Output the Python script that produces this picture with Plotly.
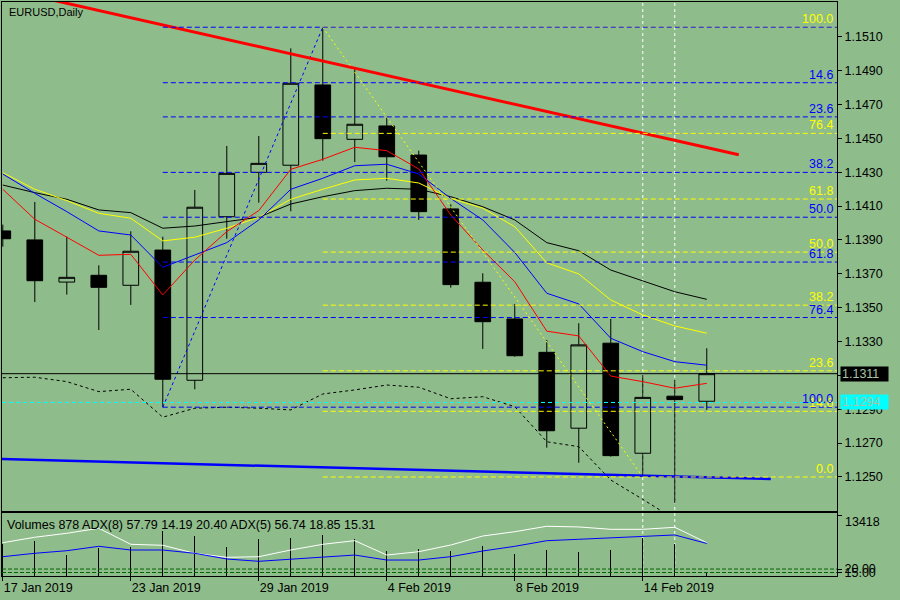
import plotly.graph_objects as go

# ---------------- data ----------------
dates = ["17 Jan 2019", "18 Jan 2019", "21 Jan 2019", "22 Jan 2019", "23 Jan 2019",
         "24 Jan 2019", "25 Jan 2019", "28 Jan 2019", "29 Jan 2019", "30 Jan 2019",
         "31 Jan 2019", "1 Feb 2019", "4 Feb 2019", "5 Feb 2019", "6 Feb 2019",
         "7 Feb 2019", "8 Feb 2019", "11 Feb 2019", "12 Feb 2019", "13 Feb 2019",
         "14 Feb 2019", "15 Feb 2019", "18 Feb 2019"]
opens  = [1.13953, 1.13900, 1.13651, 1.13691, 1.13632, 1.13840, 1.13071, 1.14037,
          1.14299, 1.14341, 1.14815, 1.14494, 1.14573, 1.14401, 1.14083, 1.13650,
          1.13433, 1.13236, 1.12788, 1.13290, 1.12640, 1.12977, 1.12947]
highs  = [1.13990, 1.14124, 1.13919, 1.13750, 1.13951, 1.13919, 1.14195, 1.14455,
          1.14514, 1.15031, 1.15156, 1.14907, 1.14624, 1.14427, 1.14110, 1.13703,
          1.13522, 1.13309, 1.13408, 1.13433, 1.13102, 1.13073, 1.13260]
lows   = [1.13860, 1.13533, 1.13577, 1.13368, 1.13516, 1.12912, 1.13018, 1.13907,
          1.14120, 1.14069, 1.14368, 1.14360, 1.14250, 1.14018, 1.13618, 1.13256,
          1.13210, 1.12673, 1.12584, 1.12620, 1.12500, 1.12345, 1.12896]
closes = [1.13907, 1.13659, 1.13679, 1.13620, 1.13833, 1.13077, 1.14093, 1.14293,
          1.14352, 1.14825, 1.14498, 1.14583, 1.14391, 1.14067, 1.13636, 1.13417,
          1.13216, 1.12773, 1.13280, 1.12626, 1.12970, 1.12957, 1.13110]

ma_red    = [1.14199, 1.14022, 1.13916, 1.13809, 1.13815, 1.13575, 1.13781, 1.13949,
             1.14073, 1.14317, 1.14376, 1.14447, 1.14427, 1.14319, 1.14047, 1.13840,
             1.13653, 1.13361, 1.13333, 1.13096, 1.13063, 1.13024, 1.13053]
ma_blue   = [1.14289, 1.14175, 1.14067, 1.13953, 1.13929, 1.13738, 1.13811, 1.13884,
             1.14018, 1.14199, 1.14264, 1.14338, 1.14347, 1.14289, 1.14145, 1.14018,
             1.13826, 1.13585, 1.13522, 1.13319, 1.13240, 1.13181, 1.13160]
ma_yellow = [1.14297, 1.14199, 1.14132, 1.14057, 1.14028, 1.13894, 1.13916, 1.13969,
             1.14034, 1.14140, 1.14199, 1.14254, 1.14264, 1.14236, 1.14146, 1.14087,
             1.13978, 1.13765, 1.13699, 1.13545, 1.13457, 1.13392, 1.13349]
ma_black  = [1.14224, 1.14179, 1.14140, 1.14077, 1.14061, 1.13969, 1.13982, 1.14008,
             1.14034, 1.14112, 1.14155, 1.14191, 1.14205, 1.14199, 1.14155, 1.14096,
             1.14018, 1.13884, 1.13836, 1.13722, 1.13659, 1.13594, 1.13549]
env_lower = [1.13086, 1.13089, 1.13063, 1.13004, 1.13018, 1.12853, 1.12906, 1.12912,
             1.12906, 1.12896, 1.12990, 1.13014, 1.13043, 1.13030, 1.12962, 1.12974,
             1.12915, 1.12708, 1.12679, 1.12482, 1.12368, 1.12250]

volumes = [7000, 7765, 4619, 6093, 6445, 9898, 8865, 6379, 8139, 8425, 9019, 8073,
           5499, 5939, 5499, 6599, 4773, 5719, 5345, 5719, 8293, 7039, 878]
adx8 = [57.8, 65.6, 71.3, 78.5, 55.5, 54.1, 42.6, 36.8, 37.7, 47.3, 55.5, 60.7,
        40.1, 44.9, 54.5, 67.4, 73.6, 81.4, 80.4, 77.0, 77.0, 79.9, 57.79]
adx5 = [37.7, 42.6, 46.3, 52.6, 47.3, 47.3, 42.6, 34.4, 31.1, 34.4, 36.8, 40.1,
        32.9, 32.9, 37.7, 45.9, 52.6, 60.7, 62.7, 64.5, 67.0, 68.9, 56.74]
adx_levels = [20, 15]

tick_idx = [0, 4, 8, 12, 16, 20]
price_ticks = [1.1250, 1.1270, 1.1290, 1.1310, 1.1330, 1.1350, 1.1370,
               1.1390, 1.1410, 1.1430, 1.1450, 1.1470, 1.1490, 1.1510]
price_tick_text = ["1.1250", "1.1270", "1.1290", "1.1310", "1.1330", "1.1350", "1.1370",
                   "1.1390", "1.1410", "1.1430", "1.1450", "1.1470", "1.1490", "1.1510"]

fib_levels = [0.0, 14.6, 23.6, 38.2, 50.0, 61.8, 76.4, 100.0]
fib1_low_idx, fib1_low = 5, 1.12912
fib1_high_idx, fib1_high = 10, 1.15156
fib2_low_idx, fib2_low = 20, 1.12500

trend_red_x, trend_red_y = [1, 23], [1.15340, 1.14403]
trend_blue_x, trend_blue_y = [-0.5, 24], [1.12608, 1.12488]
bid_price = 1.1311
cyan_price = 1.1294
vlines_idx = [20, 21]
vol_label = 13418
title_text = "EURUSD,Daily"
sub_text = "Volumes 878 ADX(8) 57.79 14.19 20.40 ADX(5) 56.74 18.85 15.31"

# ---------------- style ----------------
BG = "#8FBC8B"
FONT = "Liberation Sans"
FS = 12.5
x_range = [-0.025, 26.07]
y_range = [1.12299, 1.15305]
main_dom = [0.11324, 1.0]
sub_dom = [0.0, 0.10923]
xs = list(range(len(dates)))

fig = go.Figure()

fig.add_trace(go.Candlestick(
    x=xs, open=opens, high=highs, low=lows, close=closes,
    increasing=dict(line=dict(color="black", width=1), fillcolor=BG),
    decreasing=dict(line=dict(color="black", width=1), fillcolor="black"),
    showlegend=False, hoverinfo="skip", xaxis="x", yaxis="y"))

for vals, col in [(ma_black, "black"), (ma_yellow, "#FFFF00"),
                  (ma_blue, "#0000FF"), (ma_red, "#FF0000")]:
    fig.add_trace(go.Scatter(x=xs, y=vals, mode="lines", line=dict(color=col, width=1),
                             showlegend=False, hoverinfo="skip", xaxis="x", yaxis="y"))

fig.add_trace(go.Scatter(x=xs[:len(env_lower)], y=env_lower, mode="lines",
                         line=dict(color="black", width=1, dash="3px,3px"),
                         showlegend=False, hoverinfo="skip", xaxis="x", yaxis="y"))

# fib diagonals
fig.add_trace(go.Scatter(x=[fib1_low_idx, fib1_high_idx], y=[fib1_low, fib1_high], mode="lines",
                         line=dict(color="#0000FF", width=1, dash="3px,3px"),
                         showlegend=False, hoverinfo="skip", xaxis="x", yaxis="y"))
fig.add_trace(go.Scatter(x=[fib1_high_idx, fib2_low_idx], y=[fib1_high, fib2_low], mode="lines",
                         line=dict(color="#FFFF00", width=1, dash="2px,3px"),
                         showlegend=False, hoverinfo="skip", xaxis="x", yaxis="y"))

# trend lines
fig.add_trace(go.Scatter(x=trend_red_x, y=trend_red_y, mode="lines",
                         line=dict(color="#FF0000", width=3),
                         showlegend=False, hoverinfo="skip", xaxis="x", yaxis="y"))
fig.add_trace(go.Scatter(x=trend_blue_x, y=trend_blue_y, mode="lines",
                         line=dict(color="#0000FF", width=2.5),
                         showlegend=False, hoverinfo="skip", xaxis="x", yaxis="y"))

# sub panel
fig.add_trace(go.Bar(x=xs, y=volumes, width=0.04, marker=dict(color="black", line=dict(width=0)),
                     showlegend=False, hoverinfo="skip", xaxis="x2", yaxis="y2"))
fig.add_trace(go.Scatter(x=xs, y=adx8, mode="lines", line=dict(color="white", width=1),
                         showlegend=False, hoverinfo="skip", xaxis="x2", yaxis="y3"))
fig.add_trace(go.Scatter(x=xs, y=adx5, mode="lines", line=dict(color="#0000FF", width=1),
                         showlegend=False, hoverinfo="skip", xaxis="x2", yaxis="y3"))

shapes = []
for vx in vlines_idx:
    shapes.append(dict(type="line", xref="x", yref="paper", x0=vx, x1=vx, y0=0, y1=1,
                       line=dict(color="white", width=1, dash="3px,3px"), layer="below"))
for lv in adx_levels:
    shapes.append(dict(type="line", xref="x2", yref="y3", x0=x_range[0], x1=x_range[1], y0=lv, y1=lv,
                       line=dict(color="#006400", width=1, dash="4px,2px")))

annotations = []
# yellow fib (high -> second low)
for lv in fib_levels:
    p = fib2_low + lv / 100.0 * (fib1_high - fib2_low)
    shapes.append(dict(type="line", xref="x", yref="y", x0=fib1_high_idx, x1=x_range[1], y0=p, y1=p,
                       line=dict(color="#FFFF00", width=1, dash="5px,3px")))
    annotations.append(dict(xref="paper", yref="y", x=0.9976, y=p, text=f"{lv:.1f}",
                            xanchor="right", yanchor="bottom", yshift=-1, showarrow=False,
                            font=dict(color="#FFFF00", size=FS, family=FONT)))
# blue fib (low -> high)
for lv in fib_levels:
    p = fib1_high - lv / 100.0 * (fib1_high - fib1_low)
    shapes.append(dict(type="line", xref="x", yref="y", x0=fib1_low_idx, x1=x_range[1], y0=p, y1=p,
                       line=dict(color="#0000FF", width=1, dash="5px,3px")))
    if lv > 0:
        annotations.append(dict(xref="paper", yref="y", x=0.9976, y=p, text=f"{lv:.1f}",
                                xanchor="right", yanchor="bottom", yshift=-1, showarrow=False,
                                font=dict(color="#0000FF", size=FS, family=FONT)))

shapes.append(dict(type="line", xref="x", yref="y", x0=x_range[0], x1=x_range[1], y0=cyan_price, y1=cyan_price,
                   line=dict(color="#00FFFF", width=1, dash="4px,3px")))
shapes.append(dict(type="line", xref="x", yref="y", x0=x_range[0], x1=x_range[1], y0=bid_price, y1=bid_price,
                   line=dict(color="black", width=1)))

annotations.append(dict(xref="paper", yref="y", x=1.0036, y=bid_price, text=f"{bid_price:.4f}",
                        xanchor="left", yanchor="middle", showarrow=False, bgcolor="black",
                        width=45, height=12, align="left", borderpad=1,
                        font=dict(color="#A8C4A4", size=FS, family=FONT)))
annotations.append(dict(xref="paper", yref="y", x=1.0036, y=cyan_price, text=f"{cyan_price:.4f}",
                        xanchor="left", yanchor="middle", showarrow=False, bgcolor="#00FFFF",
                        width=45, height=12, align="left", borderpad=1,
                        font=dict(color="#A8C4A4", size=FS, family=FONT)))
annotations.append(dict(xref="paper", yref="y2", x=1.0072, y=vol_label, text=str(vol_label),
                        xanchor="left", yanchor="top", yshift=2, showarrow=False,
                        font=dict(color="black", size=FS, family=FONT)))
annotations.append(dict(xref="paper", yref="paper", x=0.006, y=0.983, text=title_text,
                        xanchor="left", yanchor="middle", showarrow=False,
                        font=dict(color="black", size=11, family=FONT)))
annotations.append(dict(xref="paper", yref="paper", x=0.004, y=0.0889, text=sub_text,
                        xanchor="left", yanchor="middle", showarrow=False,
                        font=dict(color="black", size=FS, family=FONT)))

axis_common = dict(showgrid=False, zeroline=False, showline=True, mirror=True,
                   linecolor="black", linewidth=1, tickcolor="black",
                   tickfont=dict(color="black", size=FS, family=FONT))

fig.update_layout(
    width=900, height=600,
    margin=dict(l=2, r=63, t=2, b=24, autoexpand=False),
    paper_bgcolor=BG, plot_bgcolor=BG,
    font=dict(family=FONT, size=FS, color="black"),
    showlegend=False, hovermode=False, dragmode=False, bargap=0,
    xaxis=dict(domain=[0, 1], anchor="y", range=x_range, showticklabels=False, ticks="",
               rangeslider=dict(visible=False), **axis_common),
    xaxis2=dict(domain=[0, 1], anchor="y2", range=x_range, matches="x",
                tickvals=tick_idx, ticktext=[dates[i] for i in tick_idx],
                ticks="outside", ticklen=4, ticklabelposition="outside right", **axis_common),
    yaxis=dict(domain=main_dom, anchor="x", side="right", range=y_range,
               tickvals=price_ticks, ticktext=price_tick_text, ticks="outside", ticklen=4,
               **axis_common),
    yaxis2=dict(domain=sub_dom, anchor="x2", side="right", range=[0, 13792],
                tickvals=[vol_label], showticklabels=False, ticks="outside", ticklen=4,
                **axis_common),
    yaxis3=dict(overlaying="y2", anchor="x2", side="right", range=[10, 100],
                tickvals=adx_levels, ticktext=[f"{v:.2f}" for v in adx_levels],
                ticks="outside", ticklen=4, showgrid=False, zeroline=False, showline=False,
                tickcolor="black", tickfont=dict(color="black", size=FS, family=FONT)),
    shapes=shapes, annotations=annotations,
)

fig.write_html("out.html", config={"displayModeBar": False, "staticPlot": True},
               post_script="document.body.style.margin='0';document.body.style.padding='0';"
                           "document.body.style.overflow='hidden';")
